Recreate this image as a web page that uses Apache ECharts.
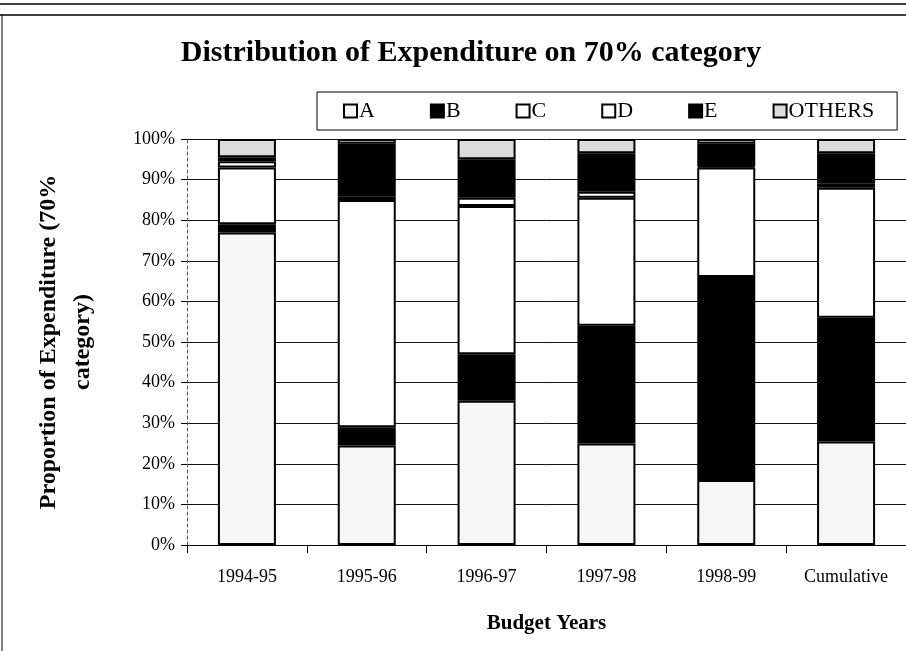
<!DOCTYPE html>
<html>
<head>
<meta charset="utf-8">
<script src="https://cdn.jsdelivr.net/npm/echarts@6/dist/echarts.min.js"></script>
<style>
  html, body { margin: 0; padding: 0; background: #fff; }
  #chart { width: 906px; height: 651px; }
</style>
</head>
<body>
<div id="chart"></div>
<script>
// ---- data (percent of each year's 70% category) ----
const years = ['1994-95', '1995-96', '1996-97', '1997-98', '1998-99', 'Cumulative'];
const shareA = [77, 24.5, 35.5, 25, 16, 25.5];
const shareB = [2, 4.5, 11.5, 29, 50, 30.5];
const shareC = [14, 56, 36.5, 31.5, 27, 32];
const shareD = [1.5, 0.8, 2, 1.5, 0.3, 1];
const shareE = [1, 13, 9.5, 9.5, 5.5, 7.5];
const shareOthers = [4.5, 1.2, 5, 3.5, 1.2, 3.5];
const yTicks = [0, 10, 20, 30, 40, 50, 60, 70, 80, 90, 100];

const SERIF = '"Liberation Serif", "DejaVu Serif", serif';

// name, values, fill
const SERIES = [
  ['A', shareA, '#f6f6f6'],
  ['B', shareB, '#000000'],
  ['C', shareC, '#ffffff'],
  ['D', shareD, '#ffffff'],
  ['E', shareE, '#000000'],
  ['OTHERS', shareOthers, '#dcdcdc'],
];

const chart = echarts.init(document.getElementById('chart'), null, { renderer: 'canvas' });

chart.setOption({
  backgroundColor: '#fff',
  animation: false,
  title: {
    text: 'Distribution of Expenditure on 70% category',
    left: 466, top: 33, textAlign: 'center',
    textStyle: { fontFamily: SERIF, fontSize: 30, fontWeight: 'bold', color: '#000' },
  },
  legend: {
    left: 317, top: 92,
    padding: [8, 23, 8, 26],
    borderColor: '#000', borderWidth: 1,
    icon: 'rect', itemWidth: 13, itemHeight: 13, itemGap: 55,
    textStyle: { fontFamily: SERIF, fontSize: 22, color: '#000', padding: [0, 0, 0, -3] },
    data: SERIES.map((s) => s[0]),
  },
  grid: { left: 187, right: 0, top: 139, bottom: 106, containLabel: false },
  xAxis: {
    type: 'category', data: years,
    name: 'Budget Years', nameLocation: 'middle', nameGap: 68,
    nameTextStyle: { fontFamily: SERIF, fontSize: 21, fontWeight: 'bold', color: '#000' },
    axisLine: { lineStyle: { color: '#000', width: 1 } },
    axisTick: { show: true, length: 8, lineStyle: { color: '#000' } },
    axisLabel: { fontFamily: SERIF, fontSize: 18, color: '#000', margin: 23 },
  },
  yAxis: {
    type: 'value', min: 0, max: 100, interval: 10,
    name: 'Proportion of Expenditure (70%\ncategory)', nameLocation: 'middle', nameGap: 87,
    nameTextStyle: { fontFamily: SERIF, fontSize: 24, fontWeight: 'bold', color: '#000', lineHeight: 34 },
    axisLine: { show: true, lineStyle: { color: '#555', width: 1, type: [3, 3] } },
    axisTick: { show: true, length: 6, lineStyle: { color: '#000' } },
    axisLabel: {
      fontFamily: SERIF, fontSize: 18, color: '#000', margin: 12,
      formatter: (v) => (yTicks.includes(v) ? v + '%' : ''),
    },
    splitLine: { lineStyle: { color: '#111', width: 1 } },
  },
  series: SERIES.map(([name, vals, fill]) => ({
    name, type: 'bar', stack: 'total', barWidth: 58,
    data: vals,
    itemStyle: { color: fill, borderColor: '#000', borderWidth: 2 },
    emphasis: { disabled: true },
  })),
  graphic: [
    // frame lines of the scanned page
    { type: 'line', shape: { x1: 0, y1: 4, x2: 906, y2: 4 }, style: { stroke: '#000', lineWidth: 1.5 } },
    { type: 'line', shape: { x1: 0, y1: 15, x2: 906, y2: 15 }, style: { stroke: '#000', lineWidth: 1.5 } },
    { type: 'line', shape: { x1: 2, y1: 15, x2: 2, y2: 651 }, style: { stroke: '#000', lineWidth: 1 } },
  ],
});
</script>
</body>
</html>
